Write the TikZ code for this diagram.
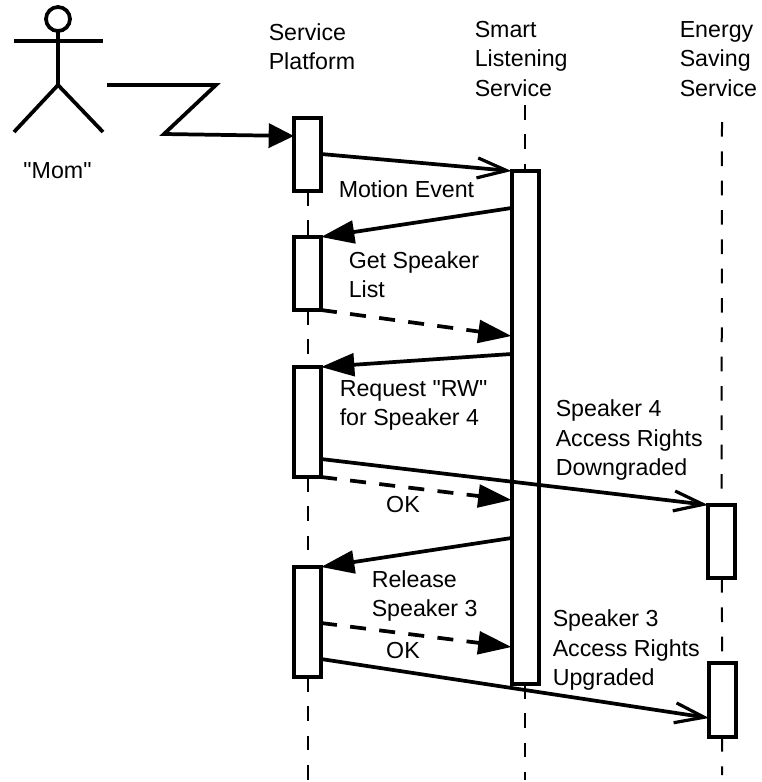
\documentclass[tikz,border=0pt]{standalone}
\usepackage{fontspec}
\setmainfont{Liberation Sans}[Ligatures=TeXOff]
\usetikzlibrary{arrows.meta,positioning,calc}

\begin{document}
\begin{tikzpicture}[
x=0.75pt,
y=-0.75pt,
bar/.style={
rectangle,
draw,
fill=white,
line width=3pt,
outer sep=0pt,
inner sep=0pt,
minimum width=20.25pt
},
lifeline/.style={line width=1.5pt, dash pattern=on 11pt off 11pt},
limb/.style={line width=2.8pt},
msg/.style={line width=2.8pt, -{Triangle[length=25pt, width=17pt]}},
reply/.style={msg, dash pattern=on 12pt off 10pt},
motionin/.style={msg, -{Triangle[length=19pt, width=18pt]}},
signal/.style={line width=2.8pt, -{Straight Barb[length=22pt, width=15pt, line width=2.4pt]}},
legend/.style={anchor=west, align=left, inner sep=0pt, font=\fontsize{17.4}{21.9}\selectfont}
]
\useasboundingbox (0,0) rectangle (761,782);

% lifeline ends
\coordinate (platformend) at (307,780);
\coordinate (listentop) at (525,105);
\coordinate (listenend) at (525,780);
\coordinate (energytop) at (722,122);
\coordinate (energyend) at (722,775);

% activation bars
\node[bar, minimum height=54.75pt] (boxa) at (307.5,154.5) {};
\node[bar, minimum height=54.75pt, below=34.5pt of boxa] (boxb) {};
\node[bar, minimum height=82.5pt, below=42.75pt of boxb] (boxc) {};
\node[bar, minimum height=82.5pt, below=67.5pt of boxc] (boxd) {};
\node[bar, minimum height=384.75pt] (listen) at (525,427.5) {};
\node[bar, minimum height=54.75pt] (energya) at (721.5,541.5) {};
\node[bar, minimum height=55.5pt, below=63.75pt of energya, xshift=0.75pt] (energyb) {};

\draw[lifeline] (boxa) -- (boxb);
\draw[lifeline] (boxb) -- (boxc);
\draw[lifeline] (boxc) -- (boxd);
\draw[lifeline] (boxd) -- (boxd |- platformend);
\draw[lifeline] (listentop) -- (listen);
\draw[lifeline] (listen) -- (listenend);
\draw[lifeline] (energytop) -- (energya);
\draw[lifeline] (energya) -- (energyb);
\draw[lifeline] (energyb) -- (energyend);

% actor
\node[circle, draw, limb, minimum size=18pt, inner sep=0pt, outer sep=0pt] (head) at (58,19) {};
\coordinate (hip) at (58,85);
\coordinate (wave) at (107,85);
\draw[limb] (head) -- (hip);
\draw[limb] (14,41) -- (103,41);
\draw[limb] (14,132) -- (hip) -- (103,132);
\node[legend, anchor=center] (mom) at (57.5,171) {"Mom"};

% headers
\node[legend] (platform) at (268.5,46.5) {Service\\Platform};
\node[legend] (smart) at (474.5,59) {Smart\\Listening\\Service};
\node[legend] (saving) at (679.5,59) {Energy\\Saving\\Service};

% messages
\draw[motionin] (wave) -- (216,85) -- (164,134) -- ($(boxa.north west)+(0,18)$);
\draw[signal] ($(boxa.north east)+(0,36)$) -- (listen.north west);
\draw[msg] ($(listen.north west)+(0,37)$) -- (boxb.north east);
\draw[reply] (boxb.south east) -- ($(listen.north west)+(0,165)$);
\draw[msg] ($(listen.north west)+(0,183)$) -- (boxc.north east);
\draw[reply] (boxc.south east) -- ($(listen.north west)+(0,329)$);
\draw[signal] ($(boxc.north east)+(0,92)$) -- (energya.north west);
\draw[msg] ($(listen.north west)+(0,367)$) -- (boxd.north east);
\draw[reply] ($(boxd.north east)+(0,56)$) -- ($(listen.north west)+(0,476)$);
\draw[signal] ($(boxd.north east)+(0,92)$) -- ($(energyb.north west)+(0,55)$);

% message labels
\node[legend] (motion) at (338.5,189.5) {Motion Event};
\node[legend] (getlist) at (348.5,275) {Get Speaker\\List};
\node[legend] (request) at (339.5,405.5) {Request "RW"\\for Speaker 4};
\node[legend, anchor=center] (oka) at (403,504.5) {OK};
\node[legend] (down) at (555.5,440) {Speaker 4\\Access Rights\\Downgraded};
\node[legend] (release) at (371.5,596) {Release\\Speaker 3};
\node[legend, anchor=center] (okb) at (403,650.5) {OK};
\node[legend] (up) at (552.5,650) {Speaker 3\\Access Rights\\Upgraded};
\end{tikzpicture}
\end{document}
